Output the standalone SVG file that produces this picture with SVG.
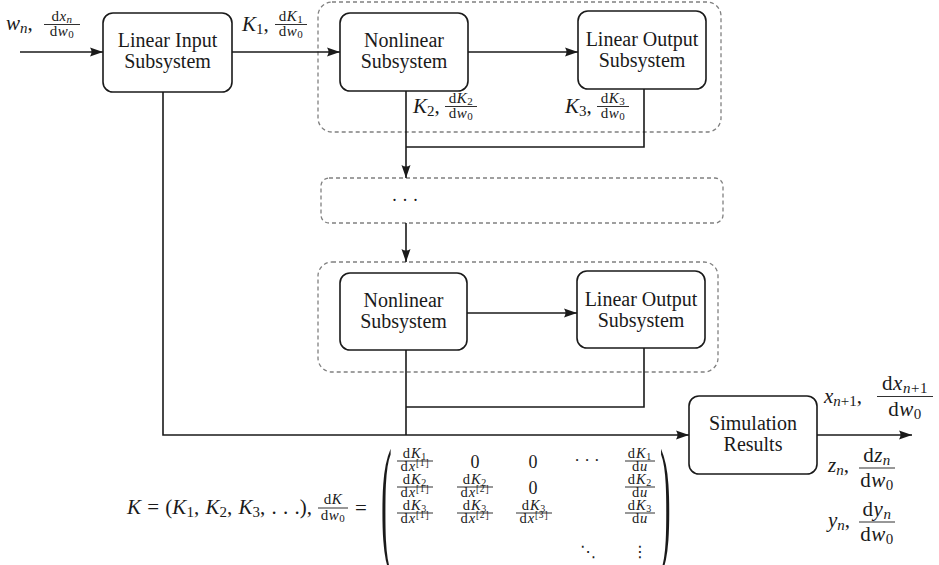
<svg xmlns="http://www.w3.org/2000/svg" width="939" height="565" viewBox="0 0 939 565">
<defs>
<style>
text{font-family:"Liberation Serif","Times New Roman",serif;fill:#1a1a1a}
.box{fill:#fff;stroke:#1a1a1a;stroke-width:1.6}
.grp{fill:none;stroke:#808080;stroke-width:1.3;stroke-dasharray:4 3}
.wire{fill:none;stroke:#1a1a1a;stroke-width:1.6}
.lbl{font-family:"Liberation Serif",serif;font-size:20px;text-anchor:middle}
.i{font-style:italic}
.n{font-style:normal}
.m{font-size:21px}
.f{font-size:15px;text-anchor:middle;letter-spacing:0.5px}
.d{font-size:21px;text-anchor:middle;letter-spacing:0.5px}
.e{font-size:14.5px;text-anchor:middle;letter-spacing:0.8px}
.z{font-size:18px;text-anchor:middle}
.bar{stroke:#1a1a1a;stroke-width:0.9}
.sym{font-family:"DejaVu Sans",sans-serif;font-size:16px;text-anchor:middle}
</style>
<marker id="ah" markerWidth="14" markerHeight="10" refX="13" refY="5" orient="auto" markerUnits="userSpaceOnUse"><path d="M0,0.5 L13,5 L0,9.5 Q3,5 0,0.5z" fill="#1a1a1a"/></marker>
</defs>
<rect width="939" height="565" fill="#fff"/>

<g id="groups">
<rect class="grp" x="318" y="2" width="403" height="130" rx="14"/>
<rect class="grp" x="321" y="178" width="402" height="45" rx="8"/>
<rect class="grp" x="318" y="262" width="400" height="110" rx="14"/>
</g>

<g id="connectors">
<path class="wire" d="M20,52 H103" marker-end="url(#ah)"/>
<path class="wire" d="M232,52 H340" marker-end="url(#ah)"/>
<path class="wire" d="M468,52 H578" marker-end="url(#ah)"/>
<path class="wire" d="M406,91 V178" marker-end="url(#ah)"/>
<path class="wire" d="M644,89 V147 H406"/>
<path class="wire" d="M406,223 V262" marker-end="url(#ah)"/>
<path class="wire" d="M467,313 H577" marker-end="url(#ah)"/>
<path class="wire" d="M406,350 V435"/>
<path class="wire" d="M644,348 V407 H406"/>
<path class="wire" d="M163,92 V435 H689" marker-end="url(#ah)"/>
<path class="wire" d="M817,435 H912" marker-end="url(#ah)"/>
</g>

<g id="linear-input">
<rect class="box" x="103" y="13" width="129" height="79" rx="10"/>
<text class="lbl" x="167.5" y="47">Linear Input</text>
<text class="lbl" x="167.5" y="68">Subsystem</text>
</g>
<g id="nonlinear-1">
<rect class="box" x="340" y="13" width="128" height="78" rx="10"/>
<text class="lbl" x="404" y="47">Nonlinear</text>
<text class="lbl" x="404" y="68">Subsystem</text>
</g>
<g id="linear-output-1">
<rect class="box" x="578" y="11" width="128" height="78" rx="10"/>
<text class="lbl" x="642" y="46">Linear Output</text>
<text class="lbl" x="642" y="67">Subsystem</text>
</g>
<g id="ellipsis-stage">
<text x="405" y="206" font-size="18" text-anchor="middle">· · ·</text>
</g>
<g id="nonlinear-2">
<rect class="box" x="340" y="273" width="127" height="77" rx="10"/>
<text class="lbl" x="403.5" y="307">Nonlinear</text>
<text class="lbl" x="403.5" y="328">Subsystem</text>
</g>
<g id="linear-output-2">
<rect class="box" x="577" y="271" width="128" height="77" rx="10"/>
<text class="lbl" x="641" y="306">Linear Output</text>
<text class="lbl" x="641" y="327">Subsystem</text>
</g>
<g id="simulation-results">
<rect class="box" x="689" y="396" width="128" height="78" rx="10"/>
<text class="lbl" x="753" y="430">Simulation</text>
<text class="lbl" x="753" y="451">Results</text>
</g>

<g id="labels">
<!-- w_n -->
<text class="m i" x="6" y="30">w<tspan font-size="15" dy="3">n</tspan><tspan class="n" dy="-3">,</tspan></text>
<text class="f" x="62" y="21">d<tspan class="i">x</tspan><tspan class="i" font-size="11" dy="2">n</tspan></text>
<line class="bar" x1="44" y1="24.5" x2="80" y2="24.5"/>
<text class="f" x="62" y="36">d<tspan class="i">w</tspan><tspan font-size="11" dy="2">0</tspan></text>
<!-- K1 -->
<text class="m i" x="242" y="31">K<tspan class="n" font-size="15" dy="3">1</tspan><tspan class="n" dy="-3">,</tspan></text>
<text class="f" x="291" y="21">d<tspan class="i">K</tspan><tspan font-size="11" dy="2">1</tspan></text>
<line class="bar" x1="275" y1="24.5" x2="307" y2="24.5"/>
<text class="f" x="291" y="36">d<tspan class="i">w</tspan><tspan font-size="11" dy="2">0</tspan></text>
<!-- K2 -->
<text class="m i" x="413" y="113">K<tspan class="n" font-size="15" dy="3">2</tspan><tspan class="n" dy="-3">,</tspan></text>
<text class="f" x="461" y="103">d<tspan class="i">K</tspan><tspan font-size="11" dy="2">2</tspan></text>
<line class="bar" x1="445" y1="106.5" x2="477" y2="106.5"/>
<text class="f" x="461" y="118">d<tspan class="i">w</tspan><tspan font-size="11" dy="2">0</tspan></text>
<!-- K3 -->
<text class="m i" x="565" y="113">K<tspan class="n" font-size="15" dy="3">3</tspan><tspan class="n" dy="-3">,</tspan></text>
<text class="f" x="613" y="103">d<tspan class="i">K</tspan><tspan font-size="11" dy="2">3</tspan></text>
<line class="bar" x1="597" y1="106.5" x2="629" y2="106.5"/>
<text class="f" x="613" y="118">d<tspan class="i">w</tspan><tspan font-size="11" dy="2">0</tspan></text>
<!-- outputs -->
<text class="m i" x="824" y="403">x<tspan font-size="15" dy="3">n</tspan><tspan class="n" font-size="15">+1</tspan><tspan class="n" dy="-3">,</tspan></text>
<text class="d" x="905" y="390">d<tspan class="i">x</tspan><tspan class="i" font-size="15" dy="3">n</tspan><tspan font-size="15">+1</tspan></text>
<line class="bar" x1="877" y1="396.5" x2="933" y2="396.5"/>
<text class="d" x="905" y="416">d<tspan class="i">w</tspan><tspan font-size="15" dy="3">0</tspan></text>

<text class="m i" x="828" y="472">z<tspan font-size="15" dy="3">n</tspan><tspan class="n" dy="-3">,</tspan></text>
<text class="d" x="877" y="462">d<tspan class="i">z</tspan><tspan class="i" font-size="15" dy="3">n</tspan></text>
<line class="bar" x1="859" y1="468" x2="895" y2="468"/>
<text class="d" x="877" y="487">d<tspan class="i">w</tspan><tspan font-size="15" dy="3">0</tspan></text>

<text class="m i" x="828" y="527">y<tspan font-size="15" dy="3">n</tspan><tspan class="n" dy="-3">,</tspan></text>
<text class="d" x="877" y="516">d<tspan class="i">y</tspan><tspan class="i" font-size="15" dy="3">n</tspan></text>
<line class="bar" x1="859" y1="522" x2="895" y2="522"/>
<text class="d" x="877" y="541">d<tspan class="i">w</tspan><tspan font-size="15" dy="3">0</tspan></text>
</g>

<g id="equation">
<text class="m" x="127" y="514" word-spacing="1"><tspan class="i">K</tspan> = (<tspan class="i">K</tspan><tspan font-size="15" dy="3">1</tspan><tspan dy="-3">, </tspan><tspan class="i">K</tspan><tspan font-size="15" dy="3">2</tspan><tspan dy="-3">, </tspan><tspan class="i">K</tspan><tspan font-size="15" dy="3">3</tspan><tspan dy="-3">, . . .),</tspan></text>
<text class="f" x="333" y="504">d<tspan class="i">K</tspan></text>
<line class="bar" x1="318" y1="508" x2="348" y2="508"/>
<text class="f" x="333" y="520">d<tspan class="i">w</tspan><tspan font-size="11" dy="2">0</tspan></text>
<text class="m" x="355" y="515">=</text>

<text font-size="32" transform="translate(381,0) scale(1,4.4)" y="124">(</text>
<text font-size="32" transform="translate(660,0) scale(1,4.4)" y="124">)</text>

<!-- row 1 -->
<text class="e" x="415" y="458">d<tspan class="i">K</tspan><tspan font-size="10" dy="2">1</tspan></text>
<line class="bar" x1="397" y1="461" x2="433" y2="461"/>
<text class="e" x="415" y="471">d<tspan class="i">x</tspan><tspan font-size="9.5" dy="-5">[1]</tspan></text>
<text class="z" x="475" y="468">0</text>
<text class="z" x="533" y="468">0</text>
<text x="587" y="466" font-size="17" text-anchor="middle">· · ·</text>
<text class="e" x="640" y="458">d<tspan class="i">K</tspan><tspan font-size="10" dy="2">1</tspan></text>
<line class="bar" x1="625" y1="461" x2="655" y2="461"/>
<text class="e" x="640" y="471">d<tspan class="i">u</tspan></text>
<!-- row 2 -->
<text class="e" x="415" y="484">d<tspan class="i">K</tspan><tspan font-size="10" dy="2">2</tspan></text>
<line class="bar" x1="397" y1="487" x2="433" y2="487"/>
<text class="e" x="415" y="497">d<tspan class="i">x</tspan><tspan font-size="9.5" dy="-5">[1]</tspan></text>
<text class="e" x="475" y="484">d<tspan class="i">K</tspan><tspan font-size="10" dy="2">2</tspan></text>
<line class="bar" x1="457" y1="487" x2="493" y2="487"/>
<text class="e" x="475" y="497">d<tspan class="i">x</tspan><tspan font-size="9.5" dy="-5">[2]</tspan></text>
<text class="z" x="533" y="494">0</text>
<text class="e" x="640" y="484">d<tspan class="i">K</tspan><tspan font-size="10" dy="2">2</tspan></text>
<line class="bar" x1="625" y1="487" x2="655" y2="487"/>
<text class="e" x="640" y="497">d<tspan class="i">u</tspan></text>
<!-- row 3 -->
<text class="e" x="415" y="510">d<tspan class="i">K</tspan><tspan font-size="10" dy="2">3</tspan></text>
<line class="bar" x1="397" y1="513" x2="433" y2="513"/>
<text class="e" x="415" y="523">d<tspan class="i">x</tspan><tspan font-size="9.5" dy="-5">[1]</tspan></text>
<text class="e" x="475" y="510">d<tspan class="i">K</tspan><tspan font-size="10" dy="2">3</tspan></text>
<line class="bar" x1="457" y1="513" x2="493" y2="513"/>
<text class="e" x="475" y="523">d<tspan class="i">x</tspan><tspan font-size="9.5" dy="-5">[2]</tspan></text>
<text class="e" x="534" y="510">d<tspan class="i">K</tspan><tspan font-size="10" dy="2">3</tspan></text>
<line class="bar" x1="516" y1="513" x2="552" y2="513"/>
<text class="e" x="534" y="523">d<tspan class="i">x</tspan><tspan font-size="9.5" dy="-5">[3]</tspan></text>
<text class="e" x="640" y="510">d<tspan class="i">K</tspan><tspan font-size="10" dy="2">3</tspan></text>
<line class="bar" x1="625" y1="513" x2="655" y2="513"/>
<text class="e" x="640" y="523">d<tspan class="i">u</tspan></text>
<!-- row 4 -->
<text class="sym" x="588" y="557">⋱</text>
<text class="sym" x="640" y="557">⋮</text>
</g>
</svg>
